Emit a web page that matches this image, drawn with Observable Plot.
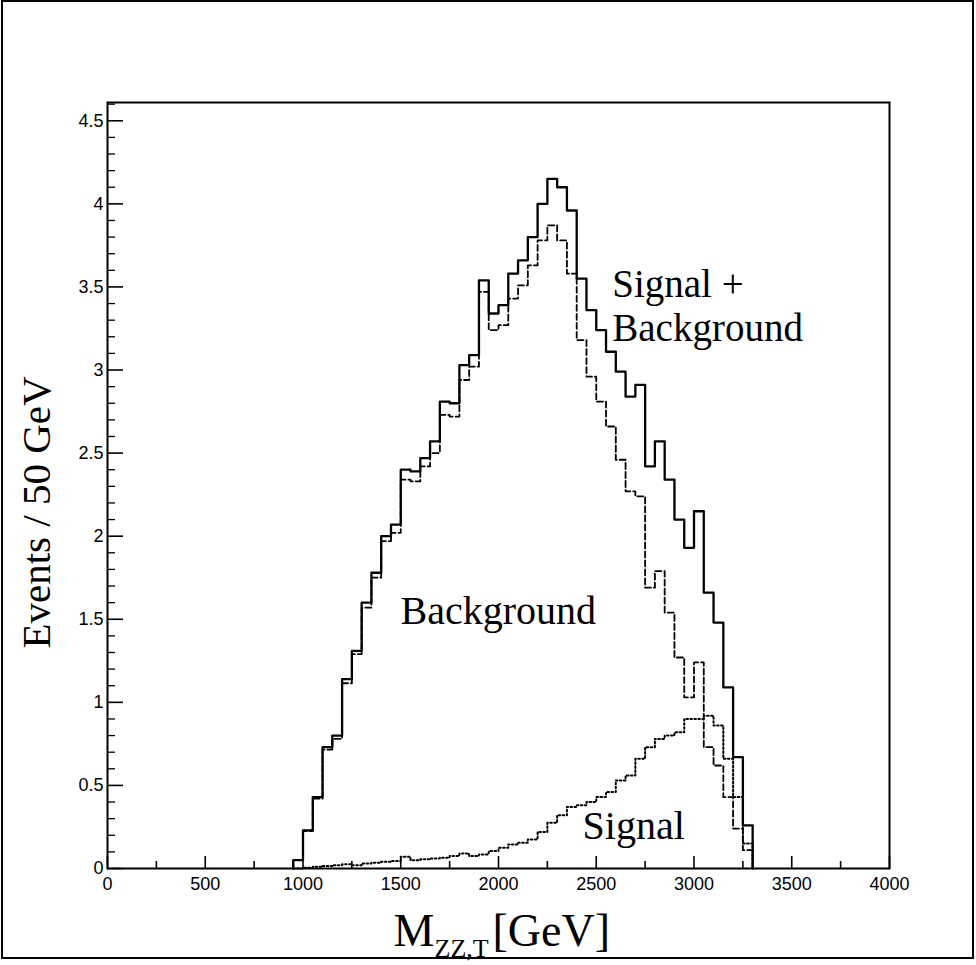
<!DOCTYPE html>
<html><head><meta charset="utf-8">
<script src="https://cdn.jsdelivr.net/npm/d3@7"></script>
<script src="https://cdn.jsdelivr.net/npm/@observablehq/plot@0.6"></script>
<style>html,body{margin:0;padding:0;background:#fff;}</style>
</head><body><div id="chart"></div>
<script>
// Bin left edges (GeV), 50 GeV bins
const binStart = [950,1000,1050,1100,1150,1200,1250,1300,1350,1400,1450,1500,1550,1600,1650,1700,1750,1800,1850,1900,1950,2000,2050,2100,2150,2200,2250,2300,2350,2400,2450,2500,2550,2600,2650,2700,2750,2800,2850,2900,2950,3000,3050,3100,3150,3200,3250];
const total = [0.05,0.23,0.43,0.73,0.80,1.14,1.31,1.60,1.78,2.00,2.07,2.40,2.39,2.47,2.57,2.81,2.80,3.03,3.09,3.54,3.34,3.39,3.58,3.66,3.80,4.00,4.15,4.10,3.96,3.55,3.36,3.24,3.11,2.99,2.84,2.91,2.42,2.57,2.34,2.10,1.93,2.15,1.66,1.48,1.09,0.67,0.26];
const background = [0.05,0.225,0.42,0.715,0.78,1.115,1.29,1.57,1.75,1.97,2.02,2.34,2.33,2.42,2.50,2.73,2.72,2.94,3.02,3.47,3.24,3.27,3.43,3.51,3.63,3.78,3.87,3.78,3.58,3.18,2.96,2.81,2.66,2.46,2.27,2.24,1.69,1.79,1.54,1.27,1.03,1.24,0.73,0.62,0.43,0.24,0.11];
const signal = [0,0.005,0.01,0.015,0.02,0.025,0.02,0.03,0.035,0.04,0.045,0.07,0.05,0.055,0.06,0.065,0.075,0.09,0.075,0.085,0.105,0.125,0.145,0.155,0.175,0.22,0.275,0.32,0.37,0.38,0.40,0.43,0.46,0.53,0.56,0.66,0.73,0.78,0.80,0.82,0.90,0.90,0.92,0.86,0.66,0.43,0.15];
const binWidth = 50;

const xMajorTicks = [0,500,1000,1500,2000,2500,3000,3500,4000];
const xMinorTicks = [250,750,1250,1750,2250,2750,3250,3750];
const yMajorTicks = [0,0.5,1,1.5,2,2.5,3,3.5,4,4.5];
const yMinorTicks = d3.range(1, 47).filter(i => i % 5 !== 0).map(i => i / 10);

const labels = ["Signal +\nBackground", "Background", "Signal"];
const xTitle = ["M", "ZZ,T", "[GeV]"];
const yTitle = "Events / 50 GeV";

function outline(vals) {
  const pts = [{x: binStart[0], y: 0}];
  binStart.forEach((x, i) => pts.push({x, y: vals[i]}));
  pts.push({x: binStart[binStart.length - 1] + binWidth, y: 0});
  return pts;
}

const W = 976, H = 965, mL = 107, mR = 87, mT = 102, mB = 97;
const fw = W - mL - mR, fh = H - mT - mB;
const serif = "'Liberation Serif', 'Times New Roman', serif";
const sans = "'Liberation Sans', Arial, sans-serif";

const chart = Plot.plot({
  width: W, height: H,
  marginLeft: mL, marginRight: mR, marginTop: mT, marginBottom: mB,
  style: {fontFamily: sans, background: "#fff", color: "#000"},
  x: {domain: [0, 4000], axis: null},
  y: {domain: [0, 4.61], axis: null},
  marks: [
    Plot.text(xMajorTicks, {x: d => d, frameAnchor: "bottom", dy: 9, text: d => String(d), textAnchor: "middle", lineAnchor: "top", fontFamily: sans, fontSize: 18, fill: "#000"}),
    Plot.text(yMajorTicks, {y: d => d, frameAnchor: "left", dx: -4, text: d => String(d), textAnchor: "end", lineAnchor: "middle", fontFamily: sans, fontSize: 18, fill: "#000"}),
    Plot.tickY(yMajorTicks, {y: d => d, insetRight: fw - 16, stroke: "#000", strokeWidth: 1.6}),
    Plot.tickY(yMinorTicks, {y: d => d, insetRight: fw - 8, stroke: "#000", strokeWidth: 1.3}),
    Plot.tickX(xMajorTicks, {x: d => d, insetTop: fh - 12, stroke: "#000", strokeWidth: 1.6}),
    Plot.tickX(xMinorTicks, {x: d => d, insetTop: fh - 7, stroke: "#000", strokeWidth: 1.6}),
    Plot.line(outline(signal), {x: "x", y: "y", curve: "step-after", stroke: "#000", strokeWidth: 2, strokeDasharray: "1.6,2.4"}),
    Plot.line(outline(background), {x: "x", y: "y", curve: "step-after", stroke: "#000", strokeWidth: 1.8, strokeDasharray: "6,3"}),
    Plot.line(outline(total), {x: "x", y: "y", curve: "step-after", stroke: "#000", strokeWidth: 2.3}),
    Plot.frame({stroke: "#000", strokeWidth: 2}),
    Plot.text([labels[0]], {x: 2582, y: 3.45, text: d => d, textAnchor: "start", lineAnchor: "top", dy: -29, lineHeight: 1.12, fontFamily: serif, fontSize: 39, fill: "#000"}),
    Plot.text([labels[1]], {x: 1499, y: 1.47, text: d => d, textAnchor: "start", lineAnchor: "bottom", fontFamily: serif, fontSize: 40, fill: "#000"}),
    Plot.text([labels[2]], {x: 2430, y: 0.18, text: d => d, textAnchor: "start", lineAnchor: "bottom", fontFamily: serif, fontSize: 40, fill: "#000"}),
    Plot.text([yTitle], {frameAnchor: "left", dx: -58, dy: 27, rotate: -90, text: d => d, textAnchor: "middle", lineAnchor: "bottom", fontFamily: serif, fontSize: 41, fill: "#000"}),
    Plot.text([xTitle[0]], {frameAnchor: "bottom-left", dx: 393 - mL, dy: 77, text: d => d, textAnchor: "start", lineAnchor: "bottom", fontFamily: serif, fontSize: 46, fill: "#000"}),
    Plot.text([xTitle[1]], {frameAnchor: "bottom-left", dx: 434 - mL, dy: 88, text: d => d, textAnchor: "start", lineAnchor: "bottom", fontFamily: serif, fontSize: 26, fill: "#000"}),
    Plot.text([xTitle[2]], {frameAnchor: "bottom-left", dx: 492 - mL, dy: 77, text: d => d, textAnchor: "start", lineAnchor: "bottom", fontFamily: serif, fontSize: 46, fill: "#000"})
  ]
});
d3.select(chart).append("rect").attr("x", 2).attr("y", 1).attr("width", 971).attr("height", 957)
  .attr("fill", "none").attr("stroke", "#000").attr("stroke-width", 2);
document.getElementById("chart").appendChild(chart);
</script>
</body></html>
